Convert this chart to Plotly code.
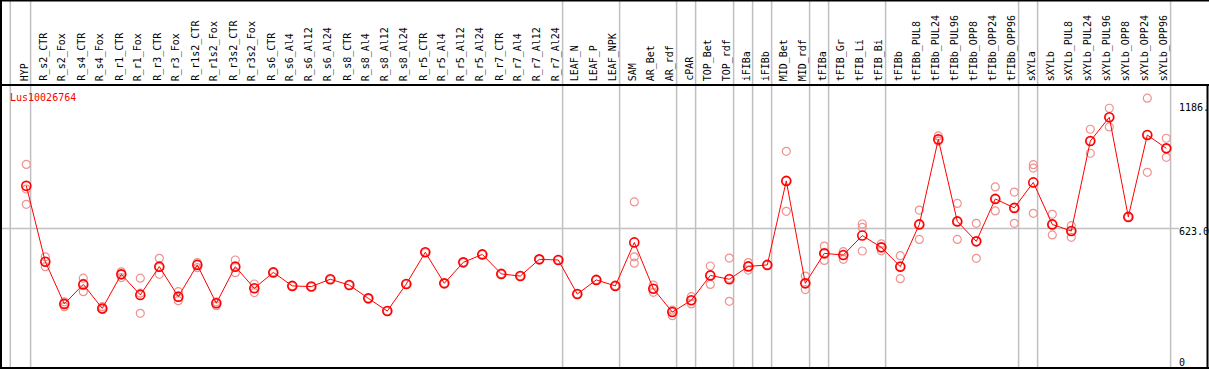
import plotly.graph_objects as go

categories = ["HYP", "R_s2_CTR", "R_s2_Fox", "R_s4_CTR", "R_s4_Fox", "R_r1_CTR", "R_r1_Fox",
              "R_r3_CTR", "R_r3_Fox", "R_r1s2_CTR", "R_r1s2_Fox", "R_r3s2_CTR", "R_r3s2_Fox",
              "R_s6_CTR", "R_s6_Al4", "R_s6_Al12", "R_s6_Al24", "R_s8_CTR", "R_s8_Al4",
              "R_s8_Al12", "R_s8_Al24", "R_r5_CTR", "R_r5_Al4", "R_r5_Al12", "R_r5_Al24",
              "R_r7_CTR", "R_r7_Al4", "R_r7_Al12", "R_r7_Al24", "LEAF_N", "LEAF_P", "LEAF_NPK",
              "SAM", "AR_Bet", "AR_rdf", "cPAR", "TOP_Bet", "TOP_rdf", "iFIBa", "iFIBb",
              "MID_Bet", "MID_rdf", "tFIBa", "tFIB_Gr", "tFIB_Li", "tFIB_Bi", "tFIBb",
              "tFIBb_PUL8", "tFIBb_PUL24", "tFIBb_PUL96", "tFIBb_OPP8", "tFIBb_OPP24",
              "tFIBb_OPP96", "sXYLa", "sXYLb", "sXYLb_PUL8", "sXYLb_PUL24", "sXYLb_PUL96",
              "sXYLb_OPP8", "sXYLb_OPP24", "sXYLb_OPP96"]

means = [822, 468, 271, 362, 250, 409, 313, 445, 305, 453, 274, 445, 344,
         418, 355, 352, 386, 359, 297, 238, 364, 512, 367, 465, 502, 411, 401, 479, 476,
         317, 383, 355, 558, 342, 233, 288, 404, 386, 446, 453, 845, 367, 507, 499, 590,
         535, 445, 642, 1039, 656, 563, 761, 719, 838, 642, 611, 1031, 1142, 677, 1059, 997]

rep_a = [922, 491, 281, 391, 258, 421, 391, 484, 328, 464, 281, 476, 364,
         418, 355, 352, 386, 359, 297, 238, 364, 512, 367, 465, 502, 411, 401, 479, 476,
         317, 383, 355, 747, 359, 242, 305, 448, 485, 464, 453, 983, 401, 541, 515, 644,
         551, 496, 709, 1055, 740, 647, 817, 793, 921, 689, 636, 1086, 1184, 677, 1231, 1044]
rep_b = [807, 468, 271, 367, 250, 409, 321, 442, 300, 455, 274, 443, 344,
         418, 355, 352, 386, 359, 297, 238, 364, 512, 367, 465, 502, 411, 401, 479, 476,
         317, 383, 355, 491, 342, 233, 288, 404, 390, 446, 453, 845, 367, 507, 499, 628,
         535, 445, 642, 1031, 656, 563, 761, 719, 905, 642, 611, 1031, 1142, 677, 1061, 997]
rep_c = [736, 445, 258, 328, 245, 394, 227, 409, 286, 440, 263, 417, 324,
         418, 355, 352, 386, 359, 297, 238, 364, 512, 367, 465, 502, 411, 401, 479, 476,
         317, 383, 355, 461, 325, 216, 271, 362, 283, 429, 453, 703, 338, 474, 479, 518,
         519, 389, 572, 1031, 572, 484, 705, 647, 694, 593, 582, 974, 1097, 677, 885, 955]

# indices of the last category in each group (separator lines drawn after them)
group_ends = [-1, 0, 28, 31, 34, 35, 37, 38, 39, 41, 42, 45, 52, 53, 60]
gene = "Lus10026764"
ytick_vals = [1186, 623, 0]
ytick_text = ["1186.", "623.0", "0"]

W, H = 1209, 370
x0_px, step_px = 26.3, 19.0
y0_px, scale = 362.0, 0.2143

xr = [-x0_px / step_px, (W - x0_px) / step_px]
yr = [-(H - y0_px) / scale, y0_px / scale]

xs = list(range(len(categories)))
rep_color = "rgb(240,145,145)"

fig = go.Figure()
for reps in (rep_a, rep_b, rep_c):
    fig.add_trace(go.Scatter(
        x=xs, y=reps, mode="markers", hoverinfo="skip",
        marker=dict(symbol="circle-open", size=8, color=rep_color, line=dict(width=1.2, color=rep_color)),
        showlegend=False))
fig.add_trace(go.Scatter(
    x=xs, y=means, mode="lines+markers",
    line=dict(color="red", width=1),
    marker=dict(symbol="circle-open", size=9, color="red", line=dict(width=1.6, color="red")),
    showlegend=False))

def px_to_xdata(px):
    return xr[0] + px / W * (xr[1] - xr[0])

shapes = []
# group separators
for k in group_ends:
    xpos = k + 4.3 / step_px if k >= 0 else px_to_xdata(10.3)
    shapes.append(dict(type="line", xref="x", yref="paper", x0=xpos, x1=xpos, y0=1 - 368 / H, y1=1,
                       line=dict(color="#c0c0c0", width=1.5), layer="below"))
# gridline at 623
shapes.append(dict(type="line", xref="paper", yref="y", x0=0, x1=1179 / W, y0=623, y1=623,
                   line=dict(color="#c0c0c0", width=1.5), layer="below"))
# frame
black = dict(color="black", width=2)
shapes.append(dict(type="line", xref="paper", yref="paper", x0=0, x1=1, y0=1 - 0.5 / H, y1=1 - 0.5 / H, line=black))
shapes.append(dict(type="line", xref="paper", yref="paper", x0=0, x1=1, y0=1 - 85 / H, y1=1 - 85 / H, line=black))
shapes.append(dict(type="line", xref="paper", yref="paper", x0=0, x1=1, y0=1 - 368 / H, y1=1 - 368 / H, line=black))
shapes.append(dict(type="line", xref="paper", yref="paper", x0=1 / W, x1=1 / W, y0=1 - 368 / H, y1=1, line=black))
shapes.append(dict(type="line", xref="paper", yref="paper", x0=1207.5 / W, x1=1207.5 / W, y0=1 - 368 / H, y1=1 - 85 / H,
                   line=black))

annotations = []
mono = "DejaVu Sans Mono"
for i, c in enumerate(categories):
    annotations.append(dict(x=i - 2 / step_px, y=1 - 83 / H, xref="x", yref="paper", text=c,
                            textangle=-90, showarrow=False, xanchor="center", yanchor="bottom",
                            font=dict(family=mono, size=10, color="black")))
annotations.append(dict(x=8 / W, y=1 - 97 / H, xref="paper", yref="paper", text=gene, showarrow=False,
                        xanchor="left", yanchor="middle", font=dict(family=mono, size=10, color="red")))
for v, t in zip(ytick_vals, ytick_text):
    annotations.append(dict(x=1177 / W, y=v, xref="paper", yref="y", text=t, showarrow=False,
                            xanchor="left", yanchor="middle", yshift=-3 if v == 623 else 0,
                            font=dict(family=mono, size=10, color="black")))

fig.update_layout(
    width=W, height=H, margin=dict(l=0, r=0, t=0, b=0),
    paper_bgcolor="white", plot_bgcolor="white",
    xaxis=dict(range=xr, visible=False, showgrid=False, zeroline=False, fixedrange=True),
    yaxis=dict(range=yr, visible=False, showgrid=False, zeroline=False, fixedrange=True),
    shapes=shapes, annotations=annotations, hovermode=False,
)

fig.write_html("out.html", config={"displayModeBar": False, "staticPlot": True},
               post_script="document.body.style.margin='0';document.body.style.padding='0';document.body.style.overflow='hidden';")
